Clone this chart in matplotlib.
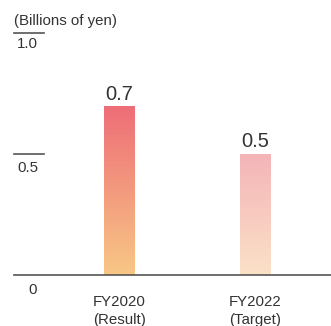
import numpy as np
import matplotlib
matplotlib.use("Agg")
import matplotlib.pyplot as plt
from matplotlib.colors import LinearSegmentedColormap

# Data
categories = ["FY2020\n(Result)", "FY2022\n(Target)"]
values = [0.7, 0.5]
value_labels = ["0.7", "0.5"]
y_ticks = [0.5, 1.0]
y_tick_labels = ["0.5", "1.0"]
unit_label = "(Billions of yen)"

# Gradient colours (top -> bottom) for each bar
bar_gradients = [("#EE6D77", "#F8C785"), ("#F4B4B8", "#FBE1C7")]

plt.rcParams["font.family"] = ["Liberation Sans", "DejaVu Sans"]
TEXT = "#333333"
LINE = "#555555"

W, H = 331, 326
fig = plt.figure(figsize=(W / 100, H / 100), dpi=100)
ax = fig.add_axes([0, 51 / H, 1, 242 / H])
ax.set_xlim(-119.5 / 136, (W - 119.5) / 136)
ax.set_ylim(0, 1.0)
ax.axis("off")

x = np.arange(len(categories))
bar_w = 31 / 136
bars = ax.bar(x, values, width=bar_w, color="none", edgecolor="none", zorder=2)

for bar, (top_c, bot_c) in zip(bars, bar_gradients):
    cmap = LinearSegmentedColormap.from_list("g", [bot_c, top_c])
    grad = np.linspace(0, 1, 256).reshape(-1, 1)
    x0 = bar.get_x()
    im = ax.imshow(grad, cmap=cmap, origin="lower", aspect="auto",
                   extent=[x0, x0 + bar.get_width(), 0, bar.get_height()],
                   zorder=2, interpolation="bicubic")
    im.set_clip_path(bar)

# Value labels above bars
for xi, v, lab, off in zip(x, values, value_labels, [6, 7]):
    ax.annotate(lab, xy=(xi, v), xytext=(0, off), textcoords="offset pixels",
                ha="center", va="baseline", fontsize=14.5, color=TEXT,
                annotation_clip=False)

# Baseline
ax.axhline(0, xmin=14 / W, xmax=1, color=LINE, lw=1.2, zorder=3, clip_on=False)

# Short reference marks with tick labels beneath
for t, lab, off in zip(y_ticks, y_tick_labels, [-7, -4]):
    ax.plot([14 / W, 44 / W], [t, t], transform=ax.get_yaxis_transform(),
            color=LINE, lw=1.2, clip_on=False)
    ax.annotate(lab, xy=(38 / W, t), xycoords=("axes fraction", "data"),
                xytext=(0, off), textcoords="offset pixels",
                ha="right", va="top", fontsize=10.8, color=TEXT,
                annotation_clip=False)

ax.annotate("0", xy=(37 / W, 0), xycoords=("axes fraction", "data"),
            xytext=(0, -8), textcoords="offset pixels",
            ha="right", va="top", fontsize=10.8, color=TEXT,
            annotation_clip=False)

# Category labels
for xi, cat in zip(x, categories):
    ax.annotate(cat, xy=(xi, 0), xytext=(0, -20), textcoords="offset pixels",
                ha="center", va="top", fontsize=10.8, color=TEXT,
                linespacing=1.32, multialignment="center",
                annotation_clip=False)

fig.text(14 / W, 1 - 21 / H, unit_label, ha="left", va="center",
         fontsize=10.8, color=TEXT)

fig.savefig("out.png", dpi=100)
